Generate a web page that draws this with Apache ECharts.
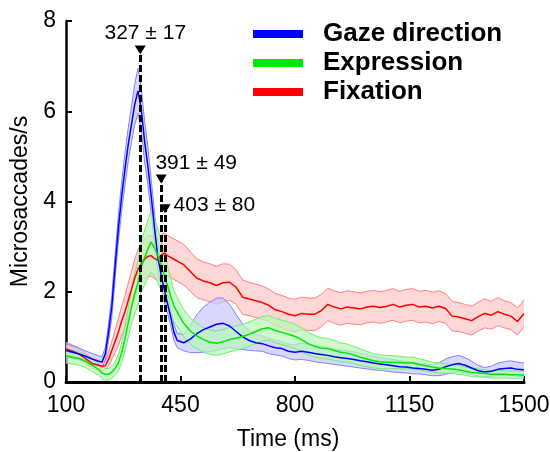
<!DOCTYPE html>
<html><head><meta charset="utf-8">
<script src="https://cdn.jsdelivr.net/npm/echarts@6/dist/echarts.min.js"></script>
<style>html,body{margin:0;padding:0;background:#fff}#c{width:550px;height:452px}</style>
</head><body><div id="c"></div>
<script>
const times = [100,120,140,160,180,
200,210,220,230,240,250,260,270,280,290,300,310,320,330,340,350,360,370,380,390,400,410,420,430,440,
460,480,500,520,540,560,580,600,620,640,660,680,700,720,740,760,780,800,820,840,860,880,900,920,940,960,980,1000,1020,1040,1060,1080,1100,1120,1140,1160,1180,1200,1220,1240,1260,1280,1300,1320,1340,1360,1380,1400,1420,1440,1460,1480,1500];

const gazeMean = [0.70,0.66,0.62,0.57,0.51,
0.46,0.44,0.62,1.10,1.67,2.55,3.40,4.10,4.70,5.25,5.70,6.15,6.45,6.05,5.35,4.80,4.15,3.45,2.80,2.40,2.05,1.75,1.45,1.10,0.92,
0.87,0.95,1.07,1.16,1.22,1.28,1.30,1.24,1.12,1.00,0.92,0.87,0.85,0.80,0.76,0.74,0.68,0.66,0.68,0.66,0.63,0.61,0.59,0.56,0.54,0.52,0.50,0.47,0.45,0.42,0.40,0.38,0.36,0.34,0.33,0.31,0.30,0.28,0.26,0.28,0.34,0.38,0.41,0.37,0.31,0.25,0.22,0.24,0.28,0.30,0.31,0.28,0.27];
const gazeErr = [0.14,0.14,0.13,0.12,0.12,
0.12,0.12,0.14,0.20,0.25,0.28,0.30,0.32,0.35,0.37,0.40,0.45,0.50,0.48,0.45,0.42,0.38,0.34,0.30,0.27,0.25,0.22,0.20,0.18,0.16,
0.18,0.30,0.42,0.50,0.55,0.58,0.56,0.48,0.38,0.28,0.22,0.18,0.17,0.17,0.16,0.16,0.16,0.17,0.18,0.18,0.18,0.18,0.18,0.17,0.17,0.17,0.17,0.16,0.16,0.15,0.14,0.14,0.14,0.13,0.13,0.13,0.12,0.12,0.12,0.14,0.17,0.18,0.18,0.17,0.15,0.12,0.10,0.11,0.14,0.15,0.16,0.16,0.15];

const exprMean = [0.58,0.55,0.52,0.46,0.37,
0.28,0.20,0.17,0.17,0.22,0.30,0.42,0.65,0.95,1.30,1.65,1.95,2.20,2.55,2.75,2.95,3.10,2.98,2.82,2.60,2.38,2.15,1.90,1.68,1.55,
1.30,1.13,1.02,0.94,0.88,0.86,0.89,0.94,0.97,1.01,1.06,1.12,1.18,1.20,1.14,1.10,1.06,1.01,0.94,0.85,0.79,0.75,0.74,0.70,0.66,0.64,0.60,0.55,0.51,0.47,0.45,0.44,0.44,0.43,0.42,0.42,0.39,0.36,0.33,0.31,0.30,0.29,0.27,0.24,0.21,0.20,0.19,0.17,0.17,0.17,0.16,0.16,0.15];
const exprErr = [0.16,0.15,0.15,0.14,0.14,
0.13,0.13,0.13,0.13,0.13,0.15,0.18,0.22,0.27,0.32,0.38,0.44,0.50,0.55,0.60,0.64,0.67,0.64,0.60,0.55,0.50,0.45,0.40,0.35,0.32,
0.30,0.29,0.28,0.27,0.27,0.27,0.27,0.27,0.27,0.27,0.27,0.27,0.27,0.27,0.27,0.27,0.27,0.27,0.26,0.25,0.24,0.23,0.23,0.22,0.21,0.20,0.19,0.18,0.17,0.16,0.15,0.15,0.14,0.14,0.13,0.13,0.12,0.12,0.11,0.11,0.10,0.10,0.10,0.09,0.09,0.09,0.08,0.08,0.08,0.08,0.08,0.08,0.08];

const fixMean = [0.73,0.68,0.62,0.52,0.41,
0.37,0.35,0.36,0.50,0.70,0.90,1.10,1.35,1.55,1.80,2.05,2.30,2.50,2.62,2.72,2.78,2.80,2.74,2.70,2.80,2.86,2.80,2.76,2.72,2.68,
2.60,2.45,2.30,2.24,2.20,2.14,2.20,2.21,2.10,1.88,1.84,1.80,1.76,1.70,1.60,1.56,1.50,1.47,1.52,1.50,1.50,1.58,1.72,1.66,1.62,1.66,1.64,1.62,1.66,1.68,1.65,1.68,1.72,1.66,1.70,1.72,1.66,1.68,1.64,1.68,1.63,1.46,1.44,1.40,1.36,1.45,1.52,1.48,1.56,1.50,1.46,1.34,1.52];
const fixErr = [0.15,0.14,0.13,0.12,0.11,
0.10,0.10,0.10,0.15,0.20,0.25,0.30,0.33,0.36,0.38,0.40,0.42,0.43,0.44,0.45,0.45,0.45,0.45,0.45,0.45,0.45,0.45,0.45,0.45,0.45,
0.45,0.44,0.43,0.42,0.42,0.42,0.42,0.40,0.38,0.38,0.37,0.37,0.37,0.36,0.36,0.36,0.36,0.36,0.36,0.36,0.36,0.36,0.36,0.36,0.36,0.36,0.36,0.35,0.35,0.35,0.35,0.35,0.35,0.35,0.35,0.35,0.35,0.35,0.35,0.34,0.33,0.33,0.32,0.32,0.32,0.32,0.32,0.31,0.31,0.30,0.30,0.30,0.30];

const seriesNames = ['Gaze direction','Expression','Fixation'];
const xTicks = [100,450,800,1150,1500];
const yTicks = [0,2,4,6,8];
const peakTimes = [327,391,403];
const peakLabels = ['327 ± 17','391 ± 49','403 ± 80'];
const peakMarkerY = [7.36,4.5,3.84];

const FONT = 'Liberation Sans, Arial, Helvetica, sans-serif';

function bandSeries(key, mean, err, edge, fill) {
  return {
    name:key+'_band', type:'custom', silent:true, clip:true,
    data: times.map((t,i)=>[t, mean[i]-err[i], mean[i]+err[i]]),
    encode:{x:0, y:[1,2]},
    renderItem: function(params, api) {
      if (params.dataIndex !== 0) return null;
      const up = [], lo = [];
      for (let i = 0; i < times.length; i++) {
        up.push(api.coord([times[i], mean[i]+err[i]]));
        lo.push(api.coord([times[i], mean[i]-err[i]]));
      }
      const poly = up.concat(lo.slice().reverse());
      return {type:'group', children:[
        {type:'polygon', shape:{points:poly}, style:{fill:fill, opacity:0.7}},
        {type:'polyline', shape:{points:up}, style:{stroke:edge, lineWidth:1, fill:null}},
        {type:'polyline', shape:{points:lo}, style:{stroke:edge, lineWidth:1, fill:null}}
      ]};
    }
  };
}
function meanSeries(name, mean, color) {
  return {name:name, type:'line', data:times.map((t,i)=>[t, mean[i]]), symbol:'none', silent:true,
    color:color, lineStyle:{color:color,width:1.5}, itemStyle:{color:color}};
}

const labelLayouts = [
  {position:'top', distance:2, offset:[5,0]},
  {position:'top', distance:5, offset:[35,4]},
  {position:'right', distance:3, offset:[0,-4]}
];

const series = [].concat(
  [bandSeries('fix', fixMean, fixErr, 'rgb(255,130,130)', 'rgb(255,198,198)')],
  [meanSeries(seriesNames[2], fixMean, '#ff0000')],
  [bandSeries('gaze', gazeMean, gazeErr, 'rgb(130,130,255)', 'rgb(198,198,255)')],
  [meanSeries(seriesNames[0], gazeMean, '#0000ff')],
  [bandSeries('expr', exprMean, exprErr, 'rgb(110,240,110)', 'rgb(184,248,184)')],
  [meanSeries(seriesNames[1], exprMean, '#00e800')],
  [{
    name:'peaks', type:'scatter', z:10, silent:true,
    symbol:'triangle', symbolRotate:180, symbolSize:[11,9],
    itemStyle:{color:'#000', opacity:1},
    label:{show:true, fontSize:21, color:'#000', opacity:1, fontFamily:FONT},
    data: peakTimes.map((t,i)=>({value:[t, peakMarkerY[i]], label:Object.assign({formatter:peakLabels[i]}, labelLayouts[i])})),
    markLine:{silent:true, symbol:['none','none'], z:9,
      lineStyle:{color:'#000', type:[7,3], width:3, opacity:1},
      label:{show:false},
      data: peakTimes.map((t,i)=>[{coord:[t,0]},{coord:[t,peakMarkerY[i]]}])}
  }]
);

const chart = echarts.init(document.getElementById('c'), null, {renderer:'canvas'});
chart.setOption({
  animation:false,
  backgroundColor:'#fff',
  textStyle:{fontFamily:FONT},
  grid:{left:66, right:26, top:21, bottom:70, containLabel:false, outerBoundsMode:'none'},
  legend:{
    data:seriesNames, orient:'vertical', left:253, top:21, padding:0, itemGap:3,
    itemWidth:50, itemHeight:8, icon:'rect', selectedMode:false,
    textStyle:{fontSize:26, fontWeight:'bold', color:'#000', fontFamily:FONT, lineHeight:26, padding:[0,0,0,15]}
  },
  xAxis:{
    type:'value', min:100, max:1500,
    axisLine:{show:true, onZero:false, lineStyle:{color:'#000', width:3}},
    axisTick:{show:true, inside:true, length:6, customValues:xTicks, lineStyle:{color:'#000', width:2}},
    axisLabel:{customValues:xTicks, formatter:function(v){return String(v);}, fontSize:23, color:'#000', margin:12, fontFamily:FONT},
    splitLine:{show:false},
    name:'Time (ms)', nameLocation:'middle', nameGap:46,
    nameTextStyle:{fontSize:23, color:'#000', fontFamily:FONT, padding:[0,14,0,0]}
  },
  yAxis:{
    type:'value', min:0, max:8, interval:2,
    axisLine:{show:true, lineStyle:{color:'#000', width:2.5}},
    axisTick:{show:true, inside:true, length:6, customValues:yTicks, lineStyle:{color:'#000', width:2}},
    axisLabel:{customValues:yTicks, formatter:function(v){return String(v);}, fontSize:23, color:'#000', margin:10, fontFamily:FONT},
    splitLine:{show:false},
    name:'Microsaccades/s', nameLocation:'middle', nameGap:31,
    nameTextStyle:{fontSize:23, color:'#000', fontFamily:FONT}
  },
  series:series
});
</script>
</body></html>
